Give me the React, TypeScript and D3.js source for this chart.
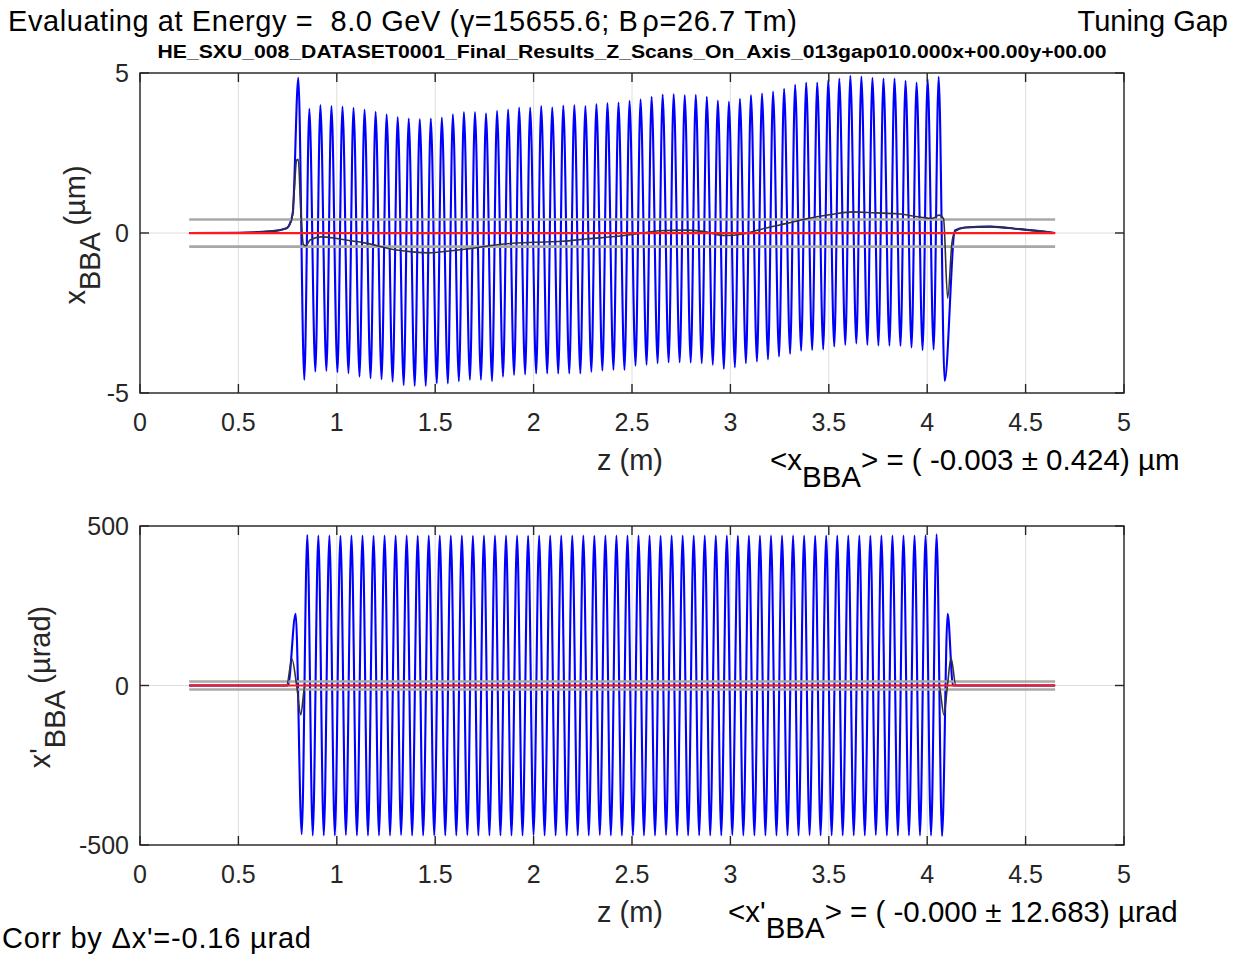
import React from 'react';
import * as d3 from 'd3';

type Pt = [number, number];

const FONT = '"Liberation Sans", Arial, Helvetica, sans-serif';

// ---------- axes ticks ----------
const zTicks = [0, 0.5, 1, 1.5, 2, 2.5, 3, 3.5, 4, 4.5, 5];
const zTickLabels = ['0', '0.5', '1', '1.5', '2', '2.5', '3', '3.5', '4', '4.5', '5'];
const xTicks = [-5, 0, 5];
const xTickLabels = ['-5', '0', '5'];
const xpTicks = [-500, 0, 500];
const xpTickLabels = ['-500', '0', '500'];

// ---------- shared ----------
const zSpan: number[] = [0.25, 4.65];
const undulatorStep = 0.0561; // spacing between successive peaks (m)

// ---------- x_BBA (µm) ----------
const xPeakZ0 = 0.8044;
const xTroughZ0 = 0.8349;
const xPeaks = [
  4.85, 3.88, 4.0, 3.97, 3.95, 3.91, 3.86, 3.79, 3.71,
  3.62, 3.58, 3.56, 3.58, 3.61, 3.71, 3.78, 3.78, 3.74, 3.82,
  3.86, 3.92, 3.92, 3.97, 3.93, 3.98, 4.0, 3.97, 4.03, 4.06,
  4.08, 4.13, 4.18, 4.26, 4.33, 4.34, 4.31, 4.32, 4.26, 4.14,
  4.11, 4.19, 4.31, 4.36, 4.42, 4.51, 4.63, 4.7, 4.7, 4.78,
  4.83, 4.91, 4.89, 4.85, 4.83, 4.83, 4.76, 4.7, 4.82, 4.88,
];
const xTroughs = [
  -4.59, -4.33, -4.31, -4.35, -4.38, -4.49, -4.54, -4.57, -4.65,
  -4.75, -4.78, -4.78, -4.7, -4.7, -4.63, -4.59, -4.59, -4.63, -4.49,
  -4.44, -4.42, -4.39, -4.39, -4.39, -4.39, -4.39, -4.34, -4.3, -4.28,
  -4.28, -4.15, -4.12, -4.07, -4.04, -4.04, -4.05, -4.07, -4.12, -4.25,
  -4.2, -4.07, -4.02, -3.95, -3.86, -3.78, -3.68, -3.66, -3.64, -3.55,
  -3.5, -3.45, -3.5, -3.52, -3.52, -3.53, -3.58, -3.66, -3.64, -4.62,
];
const xLeadIn: Pt[] = [[0.25, 0], [0.5, 0.01], [0.66, 0.05], [0.745, 0.15], [0.776, 0.6]];
const xLeadOut: Pt[] = [[4.141, 0.08], [4.192, 0.17], [4.319, 0.2], [4.472, 0.12], [4.65, 0]];
const xMeanTraj: Pt[] = [
  [0.25, 0], [0.508, 0.01], [0.66, 0.05], [0.745, 0.15], [0.771, 0.41], [0.783, 1.25],
  [0.796, 2.28], [0.804, 2.3], [0.817, 0.72], [0.83, -0.35], [0.843, -0.4], [0.864, -0.22],
  [0.923, -0.12], [1.0, -0.17], [1.067, -0.24], [1.133, -0.3], [1.304, -0.53], [1.382, -0.59],
  [1.471, -0.62], [1.56, -0.57], [1.672, -0.49], [1.784, -0.39], [1.895, -0.32], [2.007, -0.29],
  [2.144, -0.26], [2.276, -0.18], [2.414, -0.11], [2.546, -0.01], [2.637, 0.07], [2.772, 0.09],
  [2.861, 0.05], [2.973, -0.08], [3.064, -0.03], [3.176, 0.15], [3.288, 0.3], [3.399, 0.46],
  [3.511, 0.58], [3.623, 0.66], [3.735, 0.63], [3.849, 0.6], [3.961, 0.5], [4.029, 0.46],
  [4.06, 0.56], [4.083, 0.45], [4.104, -2.04], [4.126, -0.3], [4.141, 0.05], [4.192, 0.17],
  [4.319, 0.2], [4.472, 0.12], [4.65, 0],
];
const xMean = -0.003;
const xStd = 0.424;

// ---------- x'_BBA (µrad) ----------
const xpPeakZ0 = 0.8501;
const xpTroughZ0 = 0.8217;
const xpPeaks = [
  472, 470, 470, 469, 470, 470, 469, 470, 470, 470,
  469, 470, 470, 470, 470, 469, 470, 470, 470, 470,
  469, 470, 470, 470, 470, 470, 469, 470, 470, 470,
  470, 470, 469, 470, 470, 470, 470, 470, 470, 469,
  470, 470, 470, 470, 470, 470, 469, 470, 470, 470,
  470, 469, 470, 470, 470, 470, 471, 474,
];
const xpTroughs = [
  -466, -470, -470, -470, -469, -470, -470, -470, -470, -469,
  -470, -470, -470, -470, -470, -469, -470, -470, -470, -470,
  -470, -469, -470, -470, -470, -470, -470, -469, -470, -470,
  -470, -470, -470, -469, -470, -470, -470, -470, -470, -469,
  -470, -470, -470, -470, -470, -470, -469, -470, -470, -470,
  -470, -470, -469, -470, -470, -470, -470, -470, -472,
];
const xpLeadIn: Pt[] = [[0.25, 0], [0.752, 0], [0.791, 225]];
const xpLeadOut: Pt[] = [[4.104, 225], [4.131, 0], [4.65, 0]];
const xpMeanTraj: Pt[] = [
  [0.25, 0], [0.745, 0], [0.772, 83], [0.796, 0], [0.817, -92], [0.838, 0],
  [4.06, 0], [4.085, -92], [4.103, 0], [4.121, 86], [4.146, 0], [4.65, 0],
];
const xpMean = -0.0;
const xpStd = 12.683;

function oscillation(leadIn: Pt[], peakZ0: number, peaks: number[], troughZ0: number, troughs: number[], leadOut: Pt[]): Pt[] {
  const pts: Pt[] = [...leadIn];
  peaks.forEach((v, i) => pts.push([peakZ0 + i * undulatorStep, v]));
  troughs.forEach((v, i) => pts.push([troughZ0 + i * undulatorStep, v]));
  pts.push(...leadOut);
  return pts.sort((a, b) => a[0] - b[0]);
}

const LEFT = 140;
const RIGHT = 1124;
const TICK = 9;
const AX = '#262626';

function Panel(props: {
  top: number; bottom: number; domain: number[]; ticks: number[]; tickLabels: string[];
  blue: Pt[]; meanTraj: Pt[]; mean: number; std: number;
}) {
  const { top, bottom, domain, ticks, tickLabels, blue, meanTraj, mean, std } = props;
  const xs = d3.scaleLinear().domain([0, 5]).range([LEFT, RIGHT]);
  const ys = d3.scaleLinear().domain(domain).range([bottom, top]);
  const smooth = d3.line<Pt>().x((d) => xs(d[0])).y((d) => ys(d[1])).curve(d3.curveMonotoneX);
  const straight = d3.line<Pt>().x((d) => xs(d[0])).y((d) => ys(d[1]));
  const hline = (v: number): Pt[] => [[zSpan[0], v], [zSpan[1], v]];
  return (
    <g>
      {zTicks.map((t) => (
        <line key={'gx' + t} x1={xs(t)} x2={xs(t)} y1={top} y2={bottom} stroke="#dedede" strokeWidth={1} />
      ))}
      {ticks.map((t) => (
        <line key={'gy' + t} x1={LEFT} x2={RIGHT} y1={ys(t)} y2={ys(t)} stroke="#dedede" strokeWidth={1} />
      ))}
      <path d={smooth(blue) || ''} fill="none" stroke="#0000ff" strokeWidth={2.1} strokeLinejoin="round" />
      <path d={straight(hline(mean + std)) || ''} fill="none" stroke="#a8a8a8" strokeWidth={2.6} />
      <path d={straight(hline(mean - std)) || ''} fill="none" stroke="#a8a8a8" strokeWidth={2.6} />
      <path d={smooth(meanTraj) || ''} fill="none" stroke="#333333" strokeWidth={1.6} />
      <path d={straight(hline(mean)) || ''} fill="none" stroke="#ff1a1a" strokeWidth={2.2} />
      <rect x={LEFT} y={top} width={RIGHT - LEFT} height={bottom - top} fill="none" stroke={AX} strokeWidth={1.4} />
      {zTicks.map((t) => (
        <g key={'tx' + t}>
          <line x1={xs(t)} x2={xs(t)} y1={bottom} y2={bottom - TICK} stroke={AX} strokeWidth={1.4} />
          <line x1={xs(t)} x2={xs(t)} y1={top} y2={top + TICK} stroke={AX} strokeWidth={1.4} />
        </g>
      ))}
      {ticks.map((t) => (
        <g key={'ty' + t}>
          <line x1={LEFT} x2={LEFT + TICK} y1={ys(t)} y2={ys(t)} stroke={AX} strokeWidth={1.4} />
          <line x1={RIGHT} x2={RIGHT - TICK} y1={ys(t)} y2={ys(t)} stroke={AX} strokeWidth={1.4} />
        </g>
      ))}
      {zTicks.map((t, i) => (
        <text key={'lx' + t} x={xs(t)} y={bottom + 38} textAnchor="middle" fontSize={25} fill={AX}>
          {zTickLabels[i]}
        </text>
      ))}
      {ticks.map((t, i) => (
        <text key={'ly' + t} x={129} y={ys(t)} dy="0.36em" textAnchor="end" fontSize={25} fill={AX}>
          {tickLabels[i]}
        </text>
      ))}
    </g>
  );
}

export default function App() {
  const xBlue = oscillation(xLeadIn, xPeakZ0, xPeaks, xTroughZ0, xTroughs, xLeadOut);
  const xpBlue = oscillation(xpLeadIn, xpPeakZ0, xpPeaks, xpTroughZ0, xpTroughs, xpLeadOut);
  return (
    <svg width={1248} height={956} style={{ position: 'absolute', left: 0, top: 0, background: '#fff' }} fontFamily={FONT}>
      <rect x={0} y={0} width={1248} height={956} fill="#fff" />
      <text x={8} y={31} fontSize={29} fill="#000" textLength={789} lengthAdjust="spacing" style={{ whiteSpace: 'pre' }}>
        {'Evaluating at Energy =  8.0 GeV (γ=15655.6; B'}<tspan dx={4}>ρ</tspan>{'=26.7 Tm)'}
      </text>
      <text x={1228} y={31} fontSize={29} fill="#000" textAnchor="end">Tuning Gap</text>
      <text x={632} y={58} fontSize={18} fontWeight="bold" fill="#000" textAnchor="middle" textLength={949} lengthAdjust="spacingAndGlyphs">
        HE_SXU_008_DATASET0001_Final_Results_Z_Scans_On_Axis_013gap010.000x+00.00y+00.00
      </text>

      <Panel top={73} bottom={393} domain={[-5, 5]} ticks={xTicks} tickLabels={xTickLabels}
        blue={xBlue} meanTraj={xMeanTraj} mean={xMean} std={xStd} />
      <Panel top={526} bottom={845} domain={[-500, 500]} ticks={xpTicks} tickLabels={xpTickLabels}
        blue={xpBlue} meanTraj={xpMeanTraj} mean={xpMean} std={xpStd} />

      <text transform="translate(85,235) rotate(-90)" textAnchor="middle" fontSize={29} fill={AX}>
        x<tspan dy={15}>BBA</tspan><tspan dy={-15}> (µm)</tspan>
      </text>
      <text transform="translate(50,687) rotate(-90)" textAnchor="middle" fontSize={29} fill={AX}>
        x'<tspan dy={15}>BBA</tspan><tspan dy={-15}> (µrad)</tspan>
      </text>

      <text x={597} y={470} fontSize={29} fill={AX}>z (m)</text>
      <text x={597} y={922} fontSize={29} fill={AX}>z (m)</text>

      <text x={770} y={470} fontSize={29.5} fill="#000">
        &lt;x<tspan dy={17}>BBA</tspan><tspan dy={-17}>&gt; = ( -0.003 ± 0.424) µm</tspan>
      </text>
      <text x={728} y={922} fontSize={29.5} fill="#000">
        &lt;x'<tspan dy={16}>BBA</tspan><tspan dy={-16}>&gt; = ( -0.000 ± 12.683) µrad</tspan>
      </text>
      <text x={2} y={948} fontSize={29} fill="#000" textLength={309} lengthAdjust="spacing">Corr by Δx'=-0.16 µrad</text>
    </svg>
  );
}
